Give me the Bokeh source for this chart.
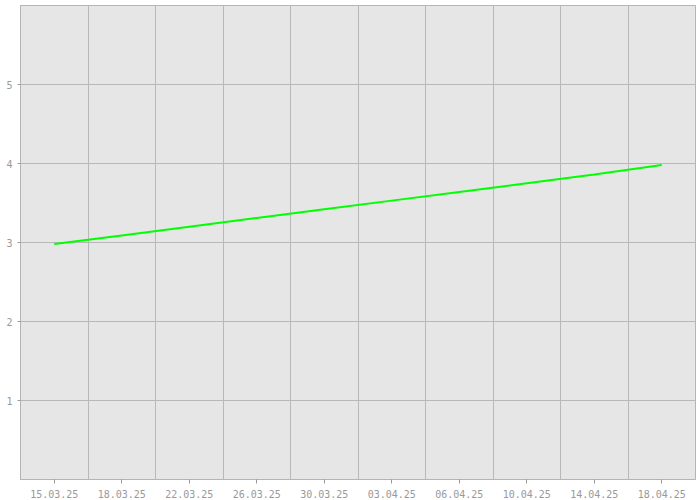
import numpy as np
from bokeh.plotting import figure
from bokeh.models import FixedTicker, Range1d
from bokeh.embed import file_html
from bokeh.resources import INLINE

dates = ["15.03.25", "18.03.25", "22.03.25", "26.03.25", "30.03.25",
         "03.04.25", "06.04.25", "10.04.25", "14.04.25", "18.04.25"]
values = [2.98, 3.09, 3.20, 3.31, 3.42, 3.53, 3.64, 3.75, 3.86, 3.98]
y_ticks = [1, 2, 3, 4, 5]

xs = list(range(len(dates)))

p = figure(width=700, height=500, output_backend="svg", toolbar_location=None,
           x_range=Range1d(-0.5, len(dates) - 0.5), y_range=Range1d(0, 6),
           min_border_left=20, min_border_right=5, min_border_top=5, min_border_bottom=20)

p.background_fill_color = "#e6e6e6"
p.border_fill_color = "white"
p.outline_line_color = "#b4b4b4"
p.outline_line_width = 1

p.line(xs, values, line_color="#00ff00", line_width=2)

# x axis
p.xaxis.ticker = FixedTicker(ticks=xs)
p.xaxis.major_label_overrides = {i: d for i, d in enumerate(dates)}
p.xaxis.major_tick_out = 4
p.xaxis.major_tick_in = 0
p.xaxis.minor_tick_line_color = None
p.xaxis.major_label_standoff = 6
p.xaxis.axis_line_color = "#b4b4b4"
p.xaxis.major_tick_line_color = "#999999"

p.xgrid.ticker = FixedTicker(ticks=[i + 0.5 for i in xs[:-1]])
p.xgrid.grid_line_color = "#b8b8b8"

# y axis
p.yaxis.ticker = FixedTicker(ticks=y_ticks)
p.yaxis.major_tick_out = 3
p.yaxis.major_tick_in = 0
p.yaxis.minor_tick_line_color = None
p.yaxis.major_label_standoff = 5
p.yaxis.axis_line_color = "#b4b4b4"
p.yaxis.major_tick_line_color = "#999999"
p.ygrid.ticker = FixedTicker(ticks=y_ticks)
p.ygrid.grid_line_color = "#b8b8b8"

for ax in (p.xaxis, p.yaxis):
    ax.major_label_text_font = "DejaVu Sans Mono"
    ax.major_label_text_font_size = "10px"
    ax.major_label_text_color = "#999999"

open("out.html", "w").write(file_html(p, INLINE))
